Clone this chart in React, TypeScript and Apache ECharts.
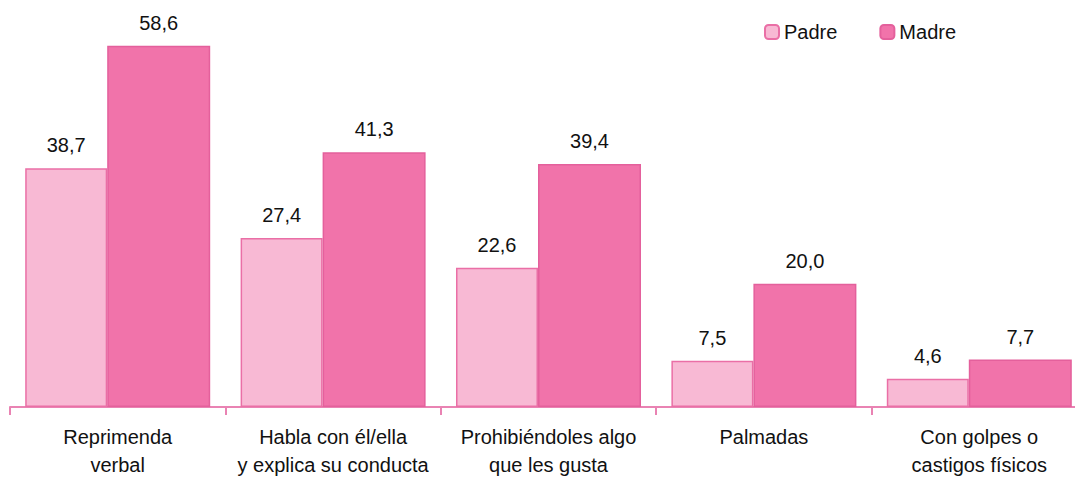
import React, { useEffect, useRef } from "react";
import * as echarts from "echarts";

const categories = [
  "Reprimenda\nverbal",
  "Habla con él/ella\ny explica su conducta",
  "Prohibiéndoles algo\nque les gusta",
  "Palmadas",
  "Con golpes o\ncastigos físicos",
];
const padre = [38.7, 27.4, 22.6, 7.5, 4.6];
const madre = [58.6, 41.3, 39.4, 20.0, 7.7];

const FONT = "'Liberation Sans', Arial, sans-serif";

export default function App() {
  const ref = useRef<HTMLDivElement>(null);
  useEffect(() => {
    const chart = echarts.init(ref.current!, null, { renderer: "svg" });
    const fmt = (p: any) => Number(p.value).toFixed(1).replace(".", ",");
    const lbl = {
      show: true,
      position: "top",
      distance: 13,
      formatter: fmt,
      fontFamily: FONT,
      fontSize: 20,
      color: "#111",
    };
    chart.setOption({
      animation: false,
      textStyle: { fontFamily: FONT },
      legend: {
        top: 17,
        left: 759,
        itemWidth: 14,
        itemHeight: 14,
        itemGap: 42,
        textStyle: { fontFamily: FONT, fontSize: 20, color: "#111" },
        data: ["Padre", "Madre"],
      },
      grid: {
        left: 10,
        width: 1077,
        top: 37,
        bottom: 73,
        containLabel: false,
        outerBoundsMode: "none",
      },
      xAxis: {
        type: "category",
        data: categories,
        axisLine: { lineStyle: { color: "#E983B3", width: 2 } },
        axisTick: { show: true, length: 8, lineStyle: { color: "#E983B3", width: 2 } },
        axisLabel: {
          fontFamily: FONT,
          fontSize: 20,
          color: "#111",
          lineHeight: 28,
          margin: 16,
          interval: 0,
        },
      },
      yAxis: { type: "value", min: 0, max: 60, show: false, splitLine: { show: false } },
      series: [
        {
          name: "Padre",
          type: "bar",
          data: padre,
          barWidth: 82,
          barGap: 0,
          itemStyle: { color: "#F8B9D4", borderColor: "#EA6FA6", borderWidth: 1.5 },
          label: lbl,
        },
        {
          name: "Madre",
          type: "bar",
          data: madre,
          barWidth: 103,
          barGap: 0,
          itemStyle: { color: "#F173AA", borderColor: "#E4609C", borderWidth: 1.5 },
          label: lbl,
        },
      ],
    });
    return () => chart.dispose();
  }, []);
  return <div ref={ref} style={{ width: 1075, height: 480, position: "absolute", left: 0, top: 0 }} />;
}
